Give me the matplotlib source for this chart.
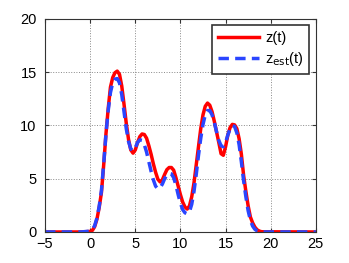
import numpy as np
import matplotlib.pyplot as plt

plt.rcParams['font.family'] = ['Liberation Sans', 'DejaVu Sans']

# values (t step 0.25 between 0 and 19)
t = [-5, -1] + [i * 0.25 for i in range(77)] + [25]
z = [0, 0,
     0.05, 0.15, 0.5, 1.2, 2.3, 3.7, 6.3, 9.2, 11.6, 13.6, 14.5, 14.95,
     15.1, 14.8, 13.7, 12.0, 10.2, 8.7, 7.7, 7.4, 7.7, 8.4, 8.95, 9.2,
     9.15, 8.8, 8.1, 7.3, 6.4, 5.6, 4.95, 4.7, 4.9, 5.4, 5.85, 6.05,
     6.05, 5.8, 5.1, 4.3, 3.5, 2.8, 2.35, 2.15, 2.45, 3.3, 4.6, 6.3,
     8.0, 9.7, 11.0, 11.8, 12.1, 11.9, 11.3, 10.4, 9.4, 8.4, 7.35, 7.2,
     8.0, 9.1, 9.8, 10.1, 10.05, 9.7, 8.75, 7.3, 5.3, 3.8, 2.45, 1.4,
     0.85, 0.45, 0.2, 0.08, 0.02,
     0]
z_est = [0, 0,
         0.08, 0.2, 0.6, 1.3, 2.4, 3.9, 6.4, 9.2, 11.4, 13.1, 14.0, 14.35,
         14.4, 14.0, 12.9, 11.3, 9.7, 8.5, 7.8, 7.6, 7.9, 8.4, 8.65, 8.6,
         8.2, 7.5, 6.6, 5.7, 4.9, 4.3, 4.05, 4.15, 4.5, 5.0, 5.35, 5.5,
         5.45, 5.1, 4.4, 3.5, 2.7, 2.1, 1.8, 1.7, 1.9, 2.6, 3.8, 5.4,
         7.2, 8.8, 10.1, 11.0, 11.4, 11.4, 11.0, 10.3, 9.4, 8.6, 8.1, 8.0,
         8.4, 9.1, 9.7, 10.0, 9.9, 9.3, 8.2, 6.6, 4.8, 3.3, 2.0, 1.1,
         0.55, 0.25, 0.1, 0.03, 0.0,
         0]

fig = plt.figure(figsize=(3.49, 2.63), dpi=100)
ax = fig.add_axes([0.129, 0.118, 0.776, 0.81])

ax.plot(t, z, color='red', lw=2.5, label='z(t)')
ax.plot(t, z_est, color='#2a45ff', lw=2.5, ls='--', dashes=(3, 1.8), label='z$_{\\mathrm{est}}$(t)')

ax.set_xlim(-5, 25)
ax.set_ylim(0, 20)
ax.set_xticks([-5, 0, 5, 10, 15, 20, 25])
ax.set_xticklabels(['\u22125', '0', '5', '10', '15', '20', '25'])
ax.set_yticks([0, 5, 10, 15, 20])
ax.grid(True, ls=':', color='#888888', lw=0.7)
ax.tick_params(direction='in', top=True, right=True, labelsize=10.5, length=3, color='#333333')
ax.tick_params(axis='y', pad=6)
for s in ax.spines.values():
    s.set_color('#333333')
    s.set_linewidth(0.8)

leg = ax.legend(loc='upper right', fontsize=10.5, fancybox=False, framealpha=1,
                edgecolor='#333333', handlelength=2.8, borderaxespad=0.45,
                labelspacing=0.3, handletextpad=0.4)
leg.get_frame().set_linewidth(1.2)

fig.savefig('out.png', dpi=100)
